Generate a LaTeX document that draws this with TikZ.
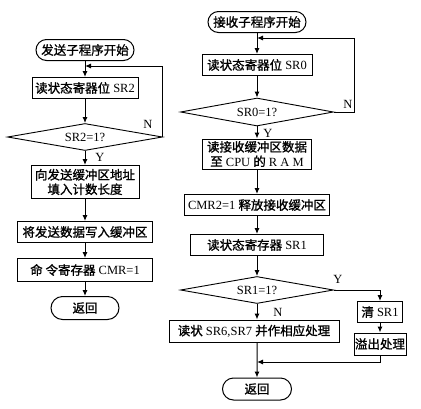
\documentclass[tikz,border=0pt]{standalone}
\usepackage{fontspec}
\setmainfont{Liberation Serif}
\newfontfamily\cjk{Noto Sans CJK SC}[FakeBold=1.2]
\usetikzlibrary{positioning, arrows.meta, shapes.geometric, shapes.misc, calc}

\begin{document}
\begin{tikzpicture}[
      x=1pt, y=-1pt,
      every node/.style={font=\fontsize{12.5}{14.5}\selectfont},
      flowbox/.style={draw, line width=1pt, minimum width=#1, minimum height=21pt,
                      inner sep=1pt, align=center},
      startstop/.style={draw, line width=1pt, rounded rectangle, minimum width=#1,
                        minimum height=21pt, inner sep=1pt},
      decision/.style={draw, line width=0.9pt, diamond, aspect=6, inner sep=0pt,
                       minimum width=#1, minimum height=27pt},
      tag/.style={inner sep=1pt},
      >={Latex[length=6pt,width=5pt]},
      line/.style={line width=1pt},
    ]
    \useasboundingbox (0,0) rectangle (421,408);

    % send routine
    \node[startstop=100pt] (sstart) at (85,50) {\cjk 发送子程序开始};
    \node[flowbox=106pt] (sread) at (85,88) {{\cjk 读状态寄器位} SR2};
    \node[decision=155pt] (sdec) at (85,137) {SR2=1?};
    \node[flowbox=108pt, minimum height=33pt] (sfill) at (85,182)
      {\cjk 向发送缓冲区地址\\\cjk 填入计数长度};
    \node[flowbox=135pt] (swrite) at (85,232) {\cjk 将发送数据写入缓冲区};
    \node[flowbox=135pt, minimum height=23pt] (scmr) at (85,270) {{\cjk 命 令寄存器} CMR=1};
    \node[startstop=70pt, minimum height=23pt] (sret) at (85,308) {\cjk 返回};
    \coordinate (sjoin) at (85,66);

    \draw[line, ->] (sstart) -- (sread);
    \draw[line, ->] (sread) -- (sdec);
    \draw[line, ->] (sdec) -- (sfill);
    \draw[line, ->] (sfill) -- (swrite);
    \draw[line, ->] (swrite) -- (scmr);
    \draw[line, ->] (scmr) -- (sret);
    \draw[line, ->] (sdec.east) |- (sjoin);
    \node[tag] (sno) at (148,124) {N};
    \node[tag] (syes) at (100,157) {Y};

    % receive routine
    \node[startstop=100pt] (rstart) at (257,22) {\cjk 接收子程序开始};
    \node[flowbox=110pt] (rread) at (257,65) {{\cjk 读状态寄器位} SR0};
    \node[decision=153pt, minimum height=28pt] (rdec) at (257,112) {SR0=1?};
    \node[flowbox=109pt, minimum height=30pt] (rcopy) at (257,154)
      {\cjk 读接收缓冲区数据\\{\cjk 至} CPU {\cjk 的} R A M};
    \node[flowbox=145pt] (rfree) at (257,205) {CMR2=1 {\cjk 释放接收缓冲区}};
    \node[flowbox=133pt] (rsr) at (257,245) {{\cjk 读状态寄存器} SR1};
    \node[decision=153pt] (rdec2) at (257,290) {SR1=1?};
    \node[flowbox=170pt, minimum height=22pt] (rproc) at (254,331)
      {{\cjk 读状} SR6,SR7 {\cjk 并作相应处理}};
    \node[flowbox=45pt] (rclr) at (380,312) {{\cjk 清} SR1};
    \node[flowbox=51pt, minimum height=22pt] (rover) at (380,344) {\cjk 溢出处理};
    \node[startstop=71pt, minimum height=22pt] (rret) at (257,389) {\cjk 返回};
    \coordinate (rjoin) at (257,38);
    \coordinate (rloop) at (354,112);
    \coordinate (rturn) at (380,362);
    \coordinate (rmerge) at (257,362);

    \draw[line, ->] (rstart) -- (rread);
    \draw[line, ->] (rread) -- (rdec);
    \draw[line, ->] (rdec) -- (rcopy);
    \draw[line, ->] (rcopy) -- (rfree);
    \draw[line, ->] (rfree) -- (rsr);
    \draw[line, ->] (rsr) -- (rdec2);
    \draw[line, ->] (rdec2.south) -- (rdec2.south |- rproc.north);
    \draw[line, ->] (rdec2.south |- rproc.south) -- (rret);
    \draw[line, ->] (rdec.east) -- (rloop) |- (rjoin);
    \draw[line, ->] (rdec2.east) -| (rclr);
    \draw[line, ->] (rclr) -- (rover);
    \draw[line, ->] (rover) -- (rturn) -- (rmerge);
    \node[tag] (rno) at (348,104) {N};
    \node[tag] (ryes) at (268,133) {Y};
    \node[tag] (ryes2) at (338,279) {Y};
    \node[tag] (rno2) at (278,312) {N};
  \end{tikzpicture}
\end{document}
